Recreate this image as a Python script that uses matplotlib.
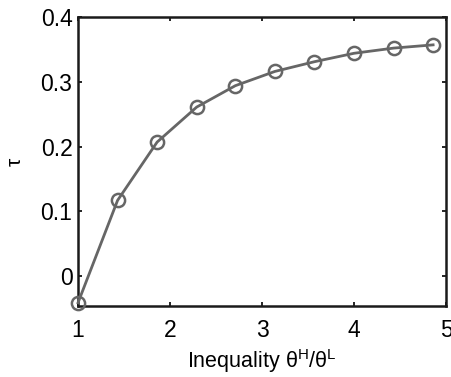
import matplotlib
matplotlib.use('Agg')
import matplotlib.pyplot as plt

plt.rcParams['font.family'] = ['Liberation Sans', 'DejaVu Sans']
plt.rcParams['mathtext.fontset'] = 'custom'
plt.rcParams['mathtext.rm'] = 'Liberation Sans'
plt.rcParams['mathtext.it'] = 'Liberation Sans'

# データ
ratio = [1.0, 1.43, 1.86, 2.29, 2.71, 3.14, 3.57, 4.0, 4.43, 4.86]
tau = [-0.041, 0.117, 0.207, 0.261, 0.294, 0.316, 0.331, 0.344, 0.352, 0.357]
xticks = [1, 2, 3, 4, 5]
yticks = [0, 0.1, 0.2, 0.3, 0.4]
ytick_labels = ['0', '0.1', '0.2', '0.3', '0.4']

fig = plt.figure(figsize=(4.52, 3.77), dpi=100)
ax = fig.add_axes([0.1726, 0.1883, 0.8141, 0.7666])

ax.plot(ratio, tau, color='#666666', linewidth=2, marker='o', markersize=9.5,
        markerfacecolor='none', markeredgecolor='#666666', markeredgewidth=1.8,
        clip_on=False, zorder=3)

ax.set_xlim(1, 5)
ax.set_ylim(-0.046, 0.4)
ax.set_xticks(xticks)
ax.set_yticks(yticks)
ax.set_yticklabels(ytick_labels)
ax.tick_params(direction='in', top=True, right=True, length=3, width=1.2,
               labelsize=16.5)
ax.tick_params(axis='x', pad=9)
ax.tick_params(axis='y', pad=4)

for s in ax.spines.values():
    s.set_linewidth(1.8)
    s.set_color('#1a1a1a')

ax.set_xlabel(r'Inequality $\mathregular{\theta^H/\theta^L}$', fontsize=15.5, labelpad=4)
ax.set_ylabel(r'$\tau$', fontsize=15, labelpad=11)

fig.savefig('out.png', dpi=100)
